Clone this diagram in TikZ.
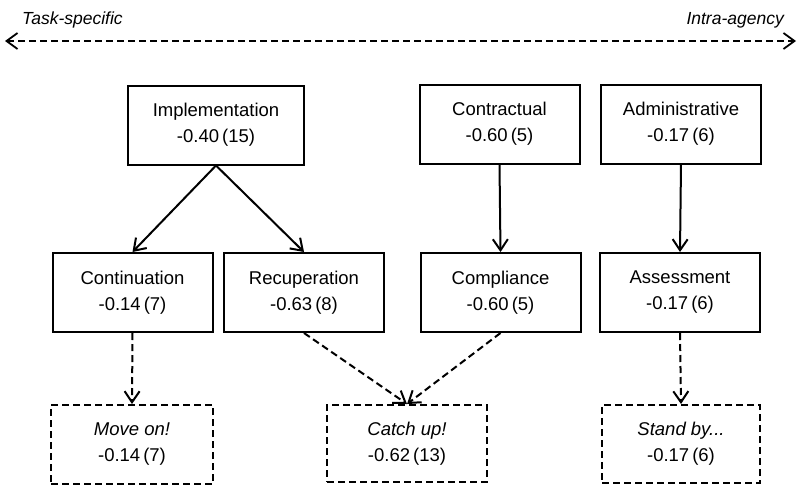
\documentclass[tikz,border=0pt]{standalone}
\usepackage{fontspec}
\setmainfont{Liberation Sans}
\usetikzlibrary{arrows.meta}
\begin{document}
\begin{tikzpicture}[x=1pt,y=-1pt,
  box/.style={draw, line width=2pt, inner sep=0pt, align=center,
    minimum width=160pt, minimum height=79pt,
    font=\fontsize{18.5}{26}\selectfont},
  outcome/.style={box, dash pattern=on 7pt off 4pt},
  link/.style={line width=2pt, -{Straight Barb[length=11pt,width=15pt,line width=2pt]}},
  dlink/.style={link, dash pattern=on 7pt off 4pt},
  axislbl/.style={font=\fontsize{17.5}{20}\selectfont\itshape, inner sep=0pt}
]
\useasboundingbox (0,0) rectangle (798,488);

% spectrum axis
\coordinate (axisL) at (5,41);
\coordinate (axisR) at (796,41);
\draw[line width=1.8pt, dash pattern=on 7pt off 4pt,
  {Straight Barb[length=11pt,width=16pt,line width=1.8pt]}-{Straight Barb[length=11pt,width=16pt,line width=1.8pt]}]
  (axisL) -- (axisR);
\node[axislbl, anchor=base west] (tasklbl) at (22,24) {Task-specific};
\node[axislbl, anchor=base east] (intralbl) at (784,24) {Intra-agency};

% top row
\node[box, minimum width=176pt] (impl) at (216,125) {Implementation\\-0.40\kern3pt(15)};
\node[box] (contr) at (499.5,124) {Contractual\\-0.60\kern3pt(5)};
\node[box] (admin) at (681,124) {Administrative\\-0.17\kern3pt(6)};

% middle row
\node[box] (cont) at (132.5,292.5) {Continuation\\-0.14\kern3pt(7)};
\node[box] (recup) at (304,292.5) {Recuperation\\-0.63\kern3pt(8)};
\node[box] (compl) at (500.5,292.5) {Compliance\\-0.60\kern3pt(5)};
\node[box] (assess) at (680,292.5) {Assessment\\-0.17\kern3pt(6)};

% outcomes
\node[outcome, minimum width=162pt] (moveon) at (132,444.5) {\textit{Move on!}\\-0.14\kern3pt(7)};
\node[outcome, minimum height=77pt] (catchup) at (407,443.5) {\textit{Catch up!}\\-0.62\kern3pt(13)};
\node[outcome, minimum width=158pt, minimum height=78pt] (standby) at (681,444) {\textit{Stand by...}\\-0.17\kern3pt(6)};

% solid links
\draw[link] (impl.south) -- (cont.north);
\draw[link] (impl.south) -- (recup.north);
\draw[link] (contr.south) -- (compl.north);
\draw[link] (admin.south) -- (assess.north);

% dashed links
\draw[dlink] (cont.south) -- (moveon.north);
\draw[dlink] (recup.south) -- (catchup.north);
\draw[dlink] (compl.south) -- (catchup.north);
\draw[dlink] (assess.south) -- (standby.north);
\end{tikzpicture}
\end{document}
